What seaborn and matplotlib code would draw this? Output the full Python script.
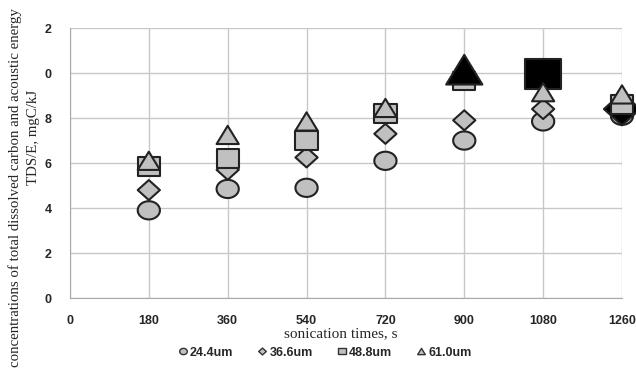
import numpy as np
import pandas as pd
import seaborn as sns
import matplotlib.pyplot as plt
from matplotlib.path import Path
from matplotlib.lines import Line2D

times = [180, 360, 540, 720, 900, 1080, 1260]
tds_24 = [3.9, 4.85, 4.9, 6.1, 7.0, 7.85, 8.1]
tds_36 = [4.8, 5.7, 6.25, 7.3, 7.9, 8.4, 8.4]
tds_48 = [5.85, 6.2, 7.0, 8.2, 9.65, 9.95, 8.6]
tds_61 = [6.1, 7.25, 7.85, 8.45, 10.15, 9.15, 9.05]
series_names = ['24.4um', '36.6um', '48.8um', '61.0um']
# points drawn in black (max of each series in the original)
highlight = {'36.6um': 1260, '48.8um': 1080, '61.0um': 900}

x_ticks = [0, 180, 360, 540, 720, 900, 1080, 1260]
y_ticks = [0, 2, 4, 6, 8, 10, 12]
y_tick_labels = ['0', '2', '4', '6', '8', '0', '2']

# slightly wide marker shapes, like the stretched original
theta = np.linspace(0, 2 * np.pi, 60)
ellipse = Path(np.column_stack([np.cos(theta), 0.82 * np.sin(theta)]), closed=True)
diamond = Path([(0, -0.9), (1, 0), (0, 0.9), (-1, 0), (0, -0.9)], closed=True)
square = Path([(-1, -0.82), (1, -0.82), (1, 0.82), (-1, 0.82), (-1, -0.82)], closed=True)
triangle = Path([(0, 0.82), (1, -0.82), (-1, -0.82), (0, 0.82)], closed=True)
markers = [ellipse, diamond, square, triangle]

sns.set_style('white')
plt.rcParams['font.family'] = ['Liberation Sans', 'DejaVu Sans']

fig = plt.figure(figsize=(6.36, 3.74), dpi=100)
ax = fig.add_axes([0.110, 0.203, 0.868, 0.722])

values = [tds_24, tds_36, tds_48, tds_61]
for i, (name, vals) in enumerate(zip(series_names, values)):
    df = pd.DataFrame({'time': times, 'tds': vals})
    df['kind'] = ['max' if highlight.get(name) == t else 'normal' for t in times]
    sns.scatterplot(data=df, x='time', y='tds', hue='kind', size='kind',
                    palette={'normal': '#c0c0c0', 'max': 'black'},
                    sizes={'normal': 256, 'max': 680},
                    marker=markers[i], edgecolor='#222222', linewidth=1.5,
                    legend=False, ax=ax, clip_on=False, zorder=3 + i)

ax.set_xlim(0, 1260)
ax.set_ylim(0, 12)
ax.set_xticks(x_ticks)
ax.set_yticks(y_ticks)
ax.set_yticklabels(y_tick_labels)
ax.grid(True, color='#c8c8c8', linewidth=1.0, zorder=0)
ax.set_axisbelow(True)
for side in ['top', 'right']:
    ax.spines[side].set_visible(False)
for side in ['left', 'bottom']:
    ax.spines[side].set_color('#a8a8a8')
ax.tick_params(axis='both', length=4, color='#a8a8a8', width=1,
               labelsize=9, direction='out')
ax.tick_params(axis='y', pad=9)
ax.tick_params(axis='x', pad=8)
for lab in ax.get_xticklabels() + ax.get_yticklabels():
    lab.set_fontweight('bold')

ax.set_xlabel('')
ax.set_ylabel('')
fig.text(0.535, (374 - 334) / 374, 'sonication times, s', ha='center', va='center',
         family='Liberation Serif', fontsize=11)
fig.text(15 / 636, (374 - 188) / 374,
         'concentrations of total dissolved carbon and acoustic energy',
         rotation=90, ha='center', va='center', family='Liberation Serif', fontsize=10.7)
fig.text(33 / 636, (374 - 137) / 374, 'TDS/E, mgC/kJ',
         rotation=90, ha='center', va='center', family='Liberation Serif', fontsize=10.7)

handles = [Line2D([], [], linestyle='none', marker=m, markersize=5.5,
                  markerfacecolor='#c0c0c0', markeredgecolor='#333333',
                  markeredgewidth=1.0) for m in markers]
fig.legend(handles, series_names, loc='center', bbox_to_anchor=(0.511, 0.057),
           ncol=4, frameon=False, handletextpad=0.2, columnspacing=2.0,
           handlelength=0.7, prop={'weight': 'bold', 'size': 9})

fig.savefig('out.png', dpi=100)
